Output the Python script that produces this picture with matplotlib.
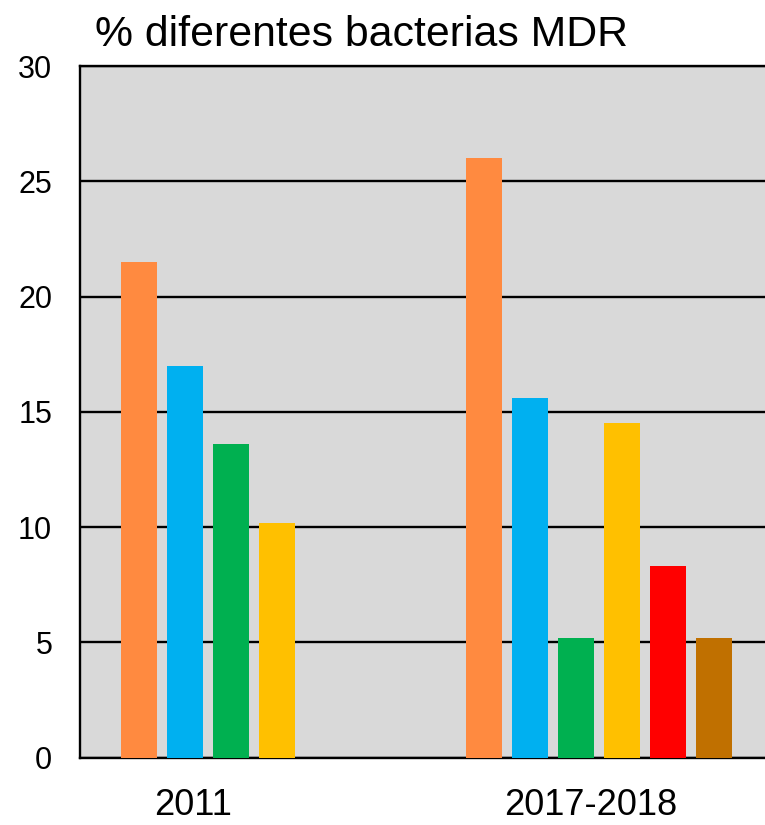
import matplotlib
matplotlib.use('Agg')
import matplotlib.pyplot as plt
import numpy as np

plt.rcParams['font.family'] = ['Liberation Sans', 'DejaVu Sans']

categories = ["2011", "2017-2018"]
orange = [21.5, 26.0]
blue = [17.0, 15.6]
green = [13.6, 5.2]
yellow = [10.2, 14.5]
red = [None, 8.3]
brown = [None, 5.2]

series = [orange, blue, green, yellow, red, brown]
colors = ["#FF8A40", "#00B0F0", "#00B050", "#FFC000", "#FF0000", "#C07000"]

group_start = np.array([0.0, 7.5])
label_offset = [1.17, 2.33]

fig = plt.figure(figsize=(7.65, 8.25), dpi=100)
ax = fig.add_axes([80 / 765, 1 - 757.7 / 825, 1 - 80 / 765, (757.7 - 66) / 825])
ax.set_facecolor("#D9D9D9")

for i, (vals, col) in enumerate(zip(series, colors)):
    for g, v in enumerate(vals):
        if v is None:
            continue
        ax.bar(group_start[g] + i, v, width=0.78, color=col, zorder=3)

ax.set_ylim(0, 30)
ax.set_xlim(-1.283, 13.61)
ax.set_yticks(range(0, 31, 5))
ax.yaxis.grid(True, color="black", linewidth=1.7, zorder=1)
ax.set_axisbelow(True)
ax.tick_params(axis="y", length=0, pad=20, labelsize=22)
ax.set_xticks(group_start + np.array(label_offset))
ax.set_xticklabels(categories)
ax.tick_params(axis="x", length=0, pad=22, labelsize=26)

for s in ["left", "bottom", "top"]:
    ax.spines[s].set_linewidth(1.7)
    ax.spines[s].set_color("black")
ax.spines["right"].set_visible(False)

fig.text(95 / 765, 1 - 46 / 825, "% diferentes bacterias MDR", fontsize=30.8,
         ha="left", va="baseline")

plt.savefig("out.png", dpi=100)
plt.close(fig)
